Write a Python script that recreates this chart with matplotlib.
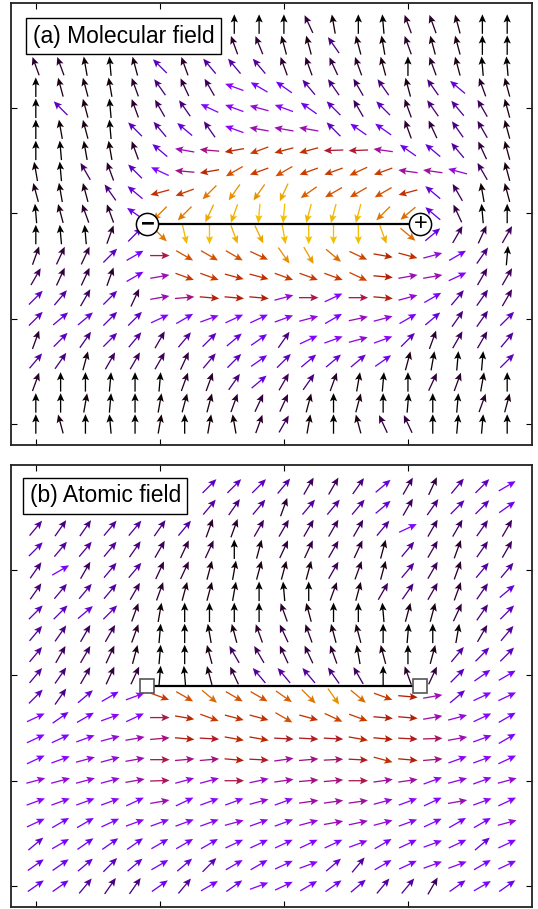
import numpy as np
import matplotlib
matplotlib.use('Agg')
import matplotlib.pyplot as plt
from matplotlib.colors import Normalize

N = None  # arrow hidden behind the label box

# arrow directions, in degrees (screen angle, counter-clockwise from +x)
# rows go from the top of the panel to the bottom, 20 columns each
MOLECULAR = [
    [N, N, N, N, N, N, N, N, 90, 90, 90, 115, 100, 90, 95, 110, 110, 105, 90, 90],
    [N, N, N, N, N, N, N, N, 110, 112, 105, 105, 125, 105, 100, 110, 105, 105, 90, 90],
    [110, 110, 100, 95, 105, 135, 110, 130, 130, 130, 110, 110, 115, 110, 105, 90, 110, 105, 95, 95],
    [90, 105, 105, 100, 110, 125, 115, 120, 160, 150, 145, 130, 125, 120, 125, 105, 125, 140, 110, 105],
    [90, 135, 105, 95, 110, 120, 125, 155, 160, 165, 160, 145, 135, 120, 135, 110, 125, 130, 120, 105],
    [90, 100, 105, 95, 135, 130, 140, 125, 160, 170, 170, 170, 135, 145, 145, 110, 115, 125, 120, 105],
    [90, 95, 100, 100, 110, 140, 170, 175, 190, 200, 195, 195, 182, 182, 172, 145, 140, 130, 115, 105],
    [100, 95, 120, 110, 135, 155, 175, 190, 210, 200, 210, 200, 200, 205, 200, 172, 172, 165, 120, 105],
    [105, 100, 105, 125, 140, 195, 200, 225, 235, 235, 245, 215, 210, 210, 210, 195, 140, 120, 100, 105],
    [95, 105, 110, 110, 145, 225, 225, 245, 250, 265, 265, 255, 255, 255, 225, 220, 140, 115, 95, 90],
    [90, 95, 95, 70, 45, 315, 283, 270, 290, 295, 280, 270, 270, 270, 290, 320, 40, 60, 65, 60],
    [70, 65, 65, 45, 30, 0, 330, 330, 330, 335, 305, 300, 320, 335, 350, 345, 15, 30, 55, 85],
    [60, 65, 65, 70, 30, 10, 340, 340, 345, 345, 340, 340, 340, 335, 355, 10, 10, 25, 60, 60],
    [45, 50, 60, 45, 65, 10, 5, 355, 355, 355, 15, 0, 25, 0, 355, 15, 30, 50, 55, 60],
    [45, 40, 40, 45, 45, 25, 30, 20, 25, 25, 20, 15, 30, 12, 15, 30, 40, 55, 55, 45],
    [70, 45, 55, 45, 50, 60, 50, 45, 40, 35, 55, 25, 20, 15, 20, 45, 70, 60, 60, 50],
    [50, 55, 75, 60, 60, 60, 65, 50, 45, 35, 45, 40, 40, 40, 35, 75, 80, 85, 85, 45],
    [70, 90, 90, 85, 90, 85, 70, 70, 55, 40, 60, 55, 70, 80, 85, 90, 65, 70, 80, 90],
    [90, 90, 80, 85, 90, 80, 75, 75, 70, 65, 65, 75, 90, 75, 90, 85, 90, 85, 70, 75],
    [90, 105, 90, 95, 90, 80, 90, 80, 100, 70, 60, 80, 90, 105, 115, 115, 90, 85, 85, 90],
]

ATOMIC = [
    [N, N, N, N, N, N, N, 45, 45, 45, 50, 60, 60, 55, 40, 60, 65, 50, 45, 30],
    [N, N, N, N, N, N, N, 50, 55, 50, 70, 50, 50, 50, 40, 60, 55, 45, 45, 35],
    [50, 55, 55, 50, 50, 55, 50, 70, 70, 60, 60, 60, 60, 60, 50, 25, 60, 60, 55, 60],
    [45, 50, 50, 50, 55, 60, 65, 65, 90, 75, 65, 65, 60, 65, 75, 50, 60, 70, 55, 60],
    [55, 30, 60, 50, 50, 65, 65, 75, 80, 75, 75, 75, 60, 70, 75, 50, 60, 70, 50, 50],
    [55, 50, 50, 50, 60, 70, 75, 75, 80, 90, 95, 90, 70, 75, 60, 55, 60, 70, 55, 40],
    [45, 45, 40, 45, 70, 80, 90, 90, 90, 90, 110, 105, 90, 90, 95, 75, 75, 65, 55, 45],
    [50, 55, 60, 60, 70, 85, 90, 100, 105, 110, 115, 110, 105, 105, 90, 85, 90, 80, 60, 50],
    [50, 60, 60, 65, 75, 85, 90, 105, 120, 120, 115, 115, 110, 100, 105, 90, 75, 50, 45, 45],
    [50, 55, 60, 65, 65, 85, 95, 105, 115, 130, 130, 130, 125, 120, 90, 110, 65, 45, 35, 30],
    [45, 55, 40, 30, 20, 340, 330, 320, 330, 330, 325, 315, 305, 320, 340, 355, 10, 40, 25, 25],
    [25, 35, 30, 20, 25, 0, 350, 340, 345, 345, 330, 345, 335, 340, 355, 355, 10, 15, 25, 30],
    [25, 25, 20, 15, 10, 5, 355, 357, 350, 350, 357, 357, 357, 350, 355, 357, 2, 10, 20, 30],
    [25, 20, 15, 15, 10, 0, 5, 5, 355, 357, 8, 5, 3, 357, 345, 355, 5, 20, 20, 25],
    [15, 15, 15, 15, 10, 2, 15, 15, 0, 12, 8, 5, 5, 0, 8, 8, 20, 15, 20, 15],
    [20, 20, 20, 20, 25, 10, 25, 20, 20, 15, 20, 8, 8, 8, 15, 20, 25, 10, 20, 25],
    [25, 30, 30, 25, 20, 20, 20, 20, 15, 20, 20, 15, 10, 12, 15, 20, 25, 30, 30, 15],
    [40, 30, 35, 35, 35, 30, 30, 30, 25, 25, 25, 25, 25, 20, 30, 25, 20, 25, 40, 25],
    [35, 35, 40, 45, 40, 30, 40, 45, 30, 30, 25, 20, 40, 50, 30, 25, 20, 20, 30, 25],
    [35, 35, 50, 55, 55, 35, 50, 30, 35, 20, 25, 30, 35, 40, 50, 50, 60, 35, 30, 35],
]

# molecule axis: end points of the bond
BOND_X = [4.5, 15.5]
BOND_Y = [9.5, 9.5]
CHARGES = ['\u2212', '+']

TICKS = [0, 5, 10, 15]
FONT = 'Liberation Sans'
DPI = 100


def fieldArrows(angles):
    rows = len(angles)
    x, y, u, v = [], [], [], []
    for r, row in enumerate(angles):
        for c, a in enumerate(row):
            if a is None:
                continue
            x.append(c)
            y.append(rows - 1 - r)
            u.append(np.cos(np.radians(a)))
            v.append(np.sin(np.radians(a)))
    return np.array(x), np.array(y), np.array(u), np.array(v)


def drawField(ax, angles, label, labelPos):
    x, y, u, v = fieldArrows(angles)
    # colour follows how far the arrow turns away from "up"
    ax.quiver(x, y, u, v, 1 - v, cmap='gnuplot', norm=Normalize(0, 2.2),
              angles='uv', pivot='middle', units='dots', scale_units='dots',
              scale=1 / 19.5, width=1.3, headwidth=5.6, headlength=6.3,
              headaxislength=5.2, zorder=2)

    ax.set_xlim(-1, 20)
    ax.set_ylim(-1, 20)
    ax.set_xticks(TICKS)
    ax.set_yticks(TICKS)
    ax.tick_params(direction='in', length=4.5, width=0.8, top=True, right=True,
                   labelbottom=False, labelleft=False)
    for s in ax.spines.values():
        s.set_linewidth(1.3)
        s.set_color('#222222')

    ax.text(labelPos[0], labelPos[1], label, transform=ax.transAxes,
            fontsize=16.5, family=FONT, ha='left', va='center', zorder=6,
            bbox=dict(boxstyle='square,pad=0.28', fc='white', ec='black', lw=1.0))


def main() -> None:
    fig = plt.figure(figsize=(538 / DPI, 909 / DPI), dpi=DPI)
    axA = fig.add_axes([11 / 538, 1 - 445 / 909, 521 / 538, 442 / 909])
    axB = fig.add_axes([11 / 538, 1 - 907 / 909, 521 / 538, 442 / 909])

    drawField(axA, MOLECULAR, '(a) Molecular field', (0.042, 0.925))
    drawField(axB, ATOMIC, '(b) Atomic field', (0.036, 0.930))

    # molecule with charges
    axA.plot(BOND_X, BOND_Y, color='black', lw=1.6, zorder=4)
    axA.plot(BOND_X, BOND_Y, 'o', ms=16, mfc='white', mec='black', mew=1.1, zorder=5)
    for bx, by, q in zip(BOND_X, BOND_Y, CHARGES):
        axA.text(bx, by, q, fontsize=17, family=FONT, ha='center', va='center',
                 fontweight='bold' if q != '+' else 'normal', zorder=6)

    # atoms only
    axB.plot(BOND_X, BOND_Y, color='black', lw=1.6, zorder=4)
    axB.plot(BOND_X, BOND_Y, 's', ms=10.5, mfc='white', mec='#555555', mew=1.2, zorder=5)

    fig.savefig('out.png', dpi=DPI)


if __name__ == '__main__':
    main()
